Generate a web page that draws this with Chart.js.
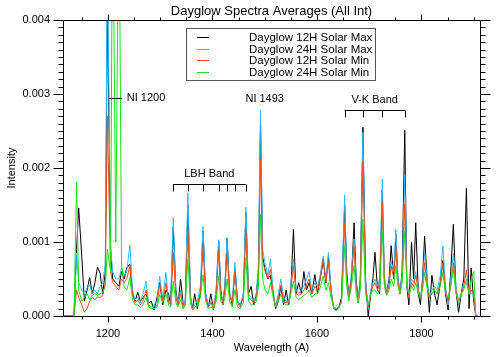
<!DOCTYPE html>
<html><head><meta charset="utf-8">
<script src="https://cdn.jsdelivr.net/npm/chart.js@4/dist/chart.umd.min.js"></script>
<style>html,body{margin:0;padding:0;background:#fff;}canvas{display:block;}</style>
</head><body><canvas id="c" width="499" height="357"></canvas>
<script>
// ---- data (wavelength in Angstrom, intensity) ----
const wavelength = [
1115,1120,1125,1130,1135,1140,1144,1150,1155,1160,
1165,1170,1175,1180,1185,1190,1195,1199,1205,1209,
1215,1221,1226,1231,1236,1242,1247,1252,1257,1262,
1267,1273,1278,1283,1288,1294,1299,1305,1311,1316,
1320,1325,1330,1334,1339,1344,1348,1353,1358,1362,
1366,1371,1377,1382,1387,1392,1397,1402,1407,1412,
1416,1420,1424,1428,1433,1438,1443,1448,1453,1459,
1464,1469,1474,1479,1484,1488,1492,1496,1501,1506,
1511,1516,1521,1526,1531,1536,1541,1546,1550,1555,
1560,1565,1570,1575,1580,1585,1590,1596,1601,1606,
1612,1617,1622,1627,1632,1637,1642,1647,1653,1657,
1661,1666,1671,1675,1679,1683,1688,1693,1698,1703,
1707,1711,1716,1720,1725,1729,1733,1738,1742,1747,
1751,1755,1759,1763,1768,1772,1776,1781,1785,1789,
1794,1798,1802,1806,1810,1815,1820,1825,1830,1836,
1841,1846,1851,1856,1861,1866,1871,1876,1881,1886,
1891,1895,1900,1904,1908];

const solarMax12H = [
0,0,0,0,0,0.0009,0.00146,0.0008,0.0002,0.00035,
0.00052,0.0003,0.00045,0.00066,0.00058,0.0003,0.0006,0.0043,0.0009,0.0005,
0.00045,0.0004,0.0006,0.0005,0.00065,0.0007,0.0003,0.0002,0.00032,0.0002,
0.00025,0.0003,0.00018,0.0002,0.00008,0.00025,0.00045,0.00015,0.00035,0.0003,
0.00015,0.0012,0.00035,0.00015,0.0005,0.00015,0.0002,0.0015,0.00025,0.0001,
0.0003,0.0001,0.0003,0.00115,0.0003,0.00012,0.0003,0.00008,0.0003,0.00101,
0.00035,0.00015,0.0004,0.00105,0.0003,0.00015,0.00065,0.0002,0.00015,0.00025,
0.0014,0.0003,0.0004,0.00015,0.0003,0.0006,0.0026,0.0008,0.00062,0.0005,
0.00055,0.0003,0.0001,0.0002,0.0004,0.00015,0.00035,0.00015,0.00035,0.00117,
0.0003,0.00045,0.0003,0.0006,0.00035,0.00045,0.0003,0.00056,0.0003,0.0005,
0.00075,0.00045,0.0008,0.00035,0.0001,0.00008,0.00012,0.00025,0.0015,0.0006,
0.00025,0.0005,0.00126,0.0005,0.00018,0.0005,0.00255,0.0005,0,0.0003,
0.0005,0.00086,0.00035,0.0003,0.0017,0.0005,0.0003,0.0005,0.00095,0.0005,
0.0011,0.0005,0.0003,0.0006,0.00251,0.0004,0.00015,0.001,0.0005,0.00126,
0.0003,0.00015,0.0005,0.00108,0.0006,0.00005,0.00055,0.0003,0.00015,0.00045,
0.00075,0.0003,0.00008,0.0006,0.00124,0.00035,0.00005,0.0003,0.0005,0.00173,
0.0001,0.00065,0.0002,0,0];

const solarMax24H = [
0,0,0,0,0,0.00085,0.00045,0.00035,0.0003,0.00038,
0.00042,0.0003,0.00035,0.0003,0.0004,0.00045,0.0007,0.005,0.00095,0.0006,
0.0005,0.0005,0.00065,0.00055,0.0006,0.00096,0.00035,0.00022,0.00025,0.00018,
0.0003,0.00047,0.00015,0.00012,0.00015,0.0002,0.00054,0.00022,0.00059,0.0002,
0.0002,0.00133,0.0003,0.00018,0.00035,0.00012,0.00022,0.00166,0.00028,0.00008,
0.00015,0.0002,0.0004,0.00121,0.0003,0.00015,0.0002,0.00012,0.00035,0.00103,
0.0003,0.0002,0.00045,0.00106,0.0003,0.0002,0.00072,0.0002,0.00015,0.0003,
0.00147,0.0003,0.00025,0.0002,0.0003,0.0007,0.00278,0.0009,0.0007,0.00055,
0.00077,0.00035,0.00012,0.0003,0.0005,0.00025,0.0002,0.0002,0.0004,0.00077,
0.00035,0.0003,0.00035,0.0004,0.0005,0.0006,0.00035,0.00045,0.0004,0.00055,
0.00081,0.0005,0.00086,0.00035,0.0001,0.00007,0.0001,0.0002,0.00164,0.0005,
0.00027,0.0006,0.00104,0.00045,0.0002,0.00055,0.00248,0.00045,0.00009,0.00035,
0.00045,0.0005,0.0004,0.0005,0.00185,0.00055,0.0003,0.00045,0.00074,0.0006,
0.00117,0.0005,0.00035,0.00055,0.00191,0.0005,0.00025,0.0005,0.00045,0.0006,
0.00035,0.00025,0.00045,0.00086,0.00055,0.00025,0.00035,0.0004,0.00035,0.00055,
0.00095,0.0004,0.00015,0.0005,0.00085,0.0004,0.00015,0.0003,0.00045,0.00045,
0.0003,0.0003,0.0003,0,0];

const solarMin12H = [
0,0,0,0,0,0.00035,0.00025,0.00015,0.00005,0.0001,
0.0002,0.00025,0.00022,0.00026,0.00025,0.00028,0.00045,0.0027,0.0006,0.00045,
0.0004,0.00035,0.0005,0.00045,0.0005,0.00068,0.0003,0.00018,0.00022,0.00015,
0.0002,0.00035,0.00012,0.0001,0.0001,0.00015,0.00043,0.0002,0.00045,0.00018,
0.00015,0.00086,0.00025,0.00014,0.0003,0.0001,0.00018,0.00115,0.0002,0.00008,
0.00012,0.00015,0.00032,0.00092,0.00025,0.00012,0.00018,0.0001,0.0003,0.00088,
0.00028,0.00018,0.00038,0.00085,0.00028,0.00018,0.00059,0.00018,0.00012,0.00025,
0.00117,0.00025,0.00022,0.00018,0.00025,0.00055,0.00212,0.00075,0.0006,0.0005,
0.00063,0.0003,0.00012,0.00025,0.00042,0.0002,0.00018,0.00018,0.00035,0.00068,
0.0003,0.00028,0.0003,0.00035,0.00042,0.0005,0.0003,0.0004,0.00035,0.0005,
0.00077,0.00045,0.00072,0.0003,0.00012,0.0001,0.00012,0.0002,0.00124,0.00045,
0.00025,0.0005,0.00095,0.0004,0.0002,0.00045,0.00209,0.0004,0.00012,0.0003,
0.0004,0.00045,0.00035,0.00045,0.00153,0.0005,0.0003,0.0004,0.00068,0.0005,
0.00095,0.00045,0.0003,0.0005,0.00151,0.00045,0.00025,0.00045,0.0004,0.00055,
0.00035,0.00025,0.0004,0.00072,0.00045,0.00025,0.0003,0.00035,0.0003,0.00045,
0.00072,0.00035,0.0002,0.0004,0.00072,0.00035,0.0002,0.0003,0.0004,0.00062,
0.0003,0.00035,0.0003,0,0];

const solarMin24H = [
0,0,0,0,0,0.00181,0.00035,0.0002,0.00025,0.0003,
0.00022,0.00028,0.0003,0.00028,0.0003,0.00032,0.0004,0.0009,0.0006,0.006,
0.001,0.006,0.0007,0.0004,0.00035,0.00052,0.00022,0.00015,0.00015,0.00012,
0.00015,0.00025,0.00012,0.0001,0.0001,0.00012,0.00029,0.00018,0.0003,0.00015,
0.00012,0.00047,0.00018,0.00012,0.00022,0.0001,0.00014,0.00077,0.00018,0.00008,
0.00012,0.00013,0.00025,0.00056,0.0002,0.0001,0.00012,0.0001,0.0002,0.00054,
0.0002,0.00015,0.00025,0.0005,0.0002,0.00012,0.00036,0.00012,0.0001,0.00018,
0.00079,0.0002,0.00015,0.00015,0.0002,0.0004,0.00137,0.0005,0.00035,0.0003,
0.00045,0.00025,0.00012,0.0002,0.0003,0.00018,0.00015,0.00015,0.0003,0.00047,
0.00025,0.00022,0.00025,0.00028,0.0003,0.00035,0.00025,0.0003,0.0003,0.00038,
0.00054,0.00035,0.00045,0.00025,0.00012,0.0001,0.00012,0.00018,0.00095,0.0004,
0.0002,0.0004,0.00068,0.0003,0.00018,0.00035,0.00131,0.0003,0.00015,0.0003,
0.00035,0.00035,0.0003,0.00035,0.00115,0.0004,0.00028,0.00035,0.0005,0.0004,
0.00068,0.0004,0.0003,0.00045,0.00115,0.0004,0.0003,0.0004,0.00035,0.00045,
0.0003,0.00025,0.00035,0.00059,0.0004,0.0003,0.0003,0.00035,0.0003,0.0004,
0.00059,0.0003,0.00025,0.0004,0.00063,0.0003,0.0002,0.0003,0.00035,0.0005,
0.0003,0.0005,0.0006,0,0];

const seriesNames = ['Dayglow 12H Solar Max','Dayglow 24H Solar Max','Dayglow 12H Solar Min','Dayglow 24H Solar Min'];
const seriesValues = [solarMax12H, solarMax24H, solarMin12H, solarMin24H];
const seriesColors = ['#000000','#2ebdf5','#f0501e','#1ee01e'];

const xMajorTicks = [1200, 1400, 1600, 1800];
const yMajorTicks = [0, 0.001, 0.002, 0.003, 0.004];
const xMinorStep = 50;
const yMinorStep = 0.0001;

const lbhBandLines = [1324.5, 1353, 1382, 1412, 1428.5, 1443, 1463.5];
const vkBandLines = [1652.7, 1687.5, 1724, 1768];

const FONT = '"Liberation Sans", Arial, sans-serif';

// ---- decorations plugin ----
const decorations = {
  id: 'decorations',
  afterDraw(chart) {
    const {ctx, chartArea: a, scales: {x, y}} = chart;
    ctx.save();
    ctx.strokeStyle = '#000';
    ctx.lineWidth = 1;
    const L = Math.round(a.left) + 0.5, R = Math.round(a.right) + 0.5;
    const T = Math.round(a.top) + 0.5, B = Math.round(a.bottom) + 0.5;
    ctx.beginPath();
    ctx.rect(L, T, R - L, B - T);
    // y ticks (outward, both sides)
    for (let i = 0; i <= 40; i++) {
      const v = i * yMinorStep;
      const py = Math.round(y.getPixelForValue(v)) + 0.5;
      const len = (i % 10 === 0) ? 10 : 5;
      ctx.moveTo(L, py); ctx.lineTo(L - len, py);
      ctx.moveTo(R, py); ctx.lineTo(R + len, py);
    }
    // x ticks (outward, both sides)
    for (let w = 1150; w <= 1900; w += xMinorStep) {
      const px = Math.round(x.getPixelForValue(w)) + 0.5;
      const len = xMajorTicks.includes(w) ? 6 : 3;
      ctx.moveTo(px, B); ctx.lineTo(px, B + len);
      ctx.moveTo(px, T); ctx.lineTo(px, T - len);
    }
    ctx.stroke();

    // title
    ctx.fillStyle = '#000';
    ctx.font = '13px ' + FONT;
    ctx.textAlign = 'center';
    ctx.textBaseline = 'middle';
    ctx.fillText('Dayglow Spectra Averages (All Int)', (a.left + a.right) / 2, 11);

    // annotations
    ctx.font = '11px ' + FONT;
    // NI 1200
    const yNI = y.getPixelForValue(0.00295);
    ctx.beginPath();
    ctx.moveTo(x.getPixelForValue(1202), Math.round(yNI) + 0.5);
    ctx.lineTo(x.getPixelForValue(1227), Math.round(yNI) + 0.5);
    ctx.stroke();
    ctx.textAlign = 'left';
    ctx.fillText('NI 1200', x.getPixelForValue(1236), yNI);
    // NI 1493
    ctx.textAlign = 'center';
    ctx.fillText('NI 1493', x.getPixelForValue(1500), y.getPixelForValue(0.00293));
    // LBH band bracket
    const yL = Math.round(y.getPixelForValue(0.00179)) + 0.5;
    ctx.beginPath();
    ctx.moveTo(x.getPixelForValue(lbhBandLines[0]), yL);
    ctx.lineTo(x.getPixelForValue(lbhBandLines[lbhBandLines.length - 1]), yL);
    lbhBandLines.forEach(w => {
      const px = Math.round(x.getPixelForValue(w)) + 0.5;
      ctx.moveTo(px, yL); ctx.lineTo(px, yL + 7);
    });
    ctx.stroke();
    ctx.fillText('LBH Band', x.getPixelForValue((lbhBandLines[0] + lbhBandLines[lbhBandLines.length - 1]) / 2), yL - 11);
    // V-K band bracket
    const yV = Math.round(y.getPixelForValue(0.00279)) + 0.5;
    ctx.beginPath();
    ctx.moveTo(x.getPixelForValue(vkBandLines[0]), yV);
    ctx.lineTo(x.getPixelForValue(vkBandLines[vkBandLines.length - 1]), yV);
    vkBandLines.forEach(w => {
      const px = Math.round(x.getPixelForValue(w)) + 0.5;
      ctx.moveTo(px, yV); ctx.lineTo(px, yV + 7);
    });
    ctx.stroke();
    ctx.fillText('V-K Band', x.getPixelForValue((vkBandLines[0] + vkBandLines[vkBandLines.length - 1]) / 2), yV - 11);

    // legend box
    const lx = 186.5, ly = 28.5, lw = 189, lh = 52;
    ctx.fillStyle = '#fff';
    ctx.fillRect(lx, ly, lw, lh);
    ctx.strokeStyle = '#555';
    ctx.strokeRect(lx, ly, lw, lh);
    ctx.font = '11.5px ' + FONT;
    ctx.textAlign = 'left';
    chart.data.datasets.forEach((ds, i) => {
      const ry = Math.round(ly + 8.5 + i * 11.7) + 0.5;
      ctx.strokeStyle = ds.borderColor;
      ctx.beginPath();
      ctx.moveTo(197, ry); ctx.lineTo(209, ry);
      ctx.stroke();
      ctx.fillStyle = '#000';
      ctx.fillText(ds.label, 249, ry);
    });
    ctx.restore();
  }
};

const datasets = seriesNames.map((name, i) => ({
  label: name,
  data: wavelength.map((w, j) => ({x: w, y: seriesValues[i][j]})),
  borderColor: seriesColors[i],
  backgroundColor: seriesColors[i],
  borderWidth: 1,
  pointRadius: 0,
  tension: 0,
  fill: false,
  order: seriesNames.length - i
}));

new Chart(document.getElementById('c'), {
  type: 'line',
  data: {datasets},
  options: {
    responsive: false,
    animation: false,
    events: [],
    layout: {padding: {left: 0, right: 19, top: 20, bottom: 0}},
    plugins: {legend: {display: false}, title: {display: false}, tooltip: {enabled: false}},
    scales: {
      x: {
        type: 'linear', min: 1114, max: 1912,
        afterBuildTicks: s => { s.ticks = xMajorTicks.map(v => ({value: v})); },
        afterFit: s => { s.height = 41; },
        grid: {display: false, drawTicks: false},
        border: {display: false},
        ticks: {padding: 11, color: '#000', maxRotation: 0, autoSkip: false,
                font: {family: FONT, size: 11}, callback: v => String(v)},
        title: {display: true, text: 'Wavelength (A)', color: '#000',
                font: {family: FONT, size: 11}, padding: {top: 0, bottom: 2}}
      },
      y: {
        type: 'linear', min: 0, max: 0.004,
        afterBuildTicks: s => { s.ticks = yMajorTicks.map(v => ({value: v})); },
        afterFit: s => { s.width = 63; },
        grid: {display: false, drawTicks: false},
        border: {display: false},
        ticks: {padding: 13, color: '#000', autoSkip: false,
                font: {family: FONT, size: 11}, callback: v => Number(v).toFixed(3)},
        title: {display: true, text: 'Intensity', color: '#000',
                font: {family: FONT, size: 11}, padding: {top: 5, bottom: 0}}
      }
    }
  },
  plugins: [decorations]
});
</script>
</body></html>
